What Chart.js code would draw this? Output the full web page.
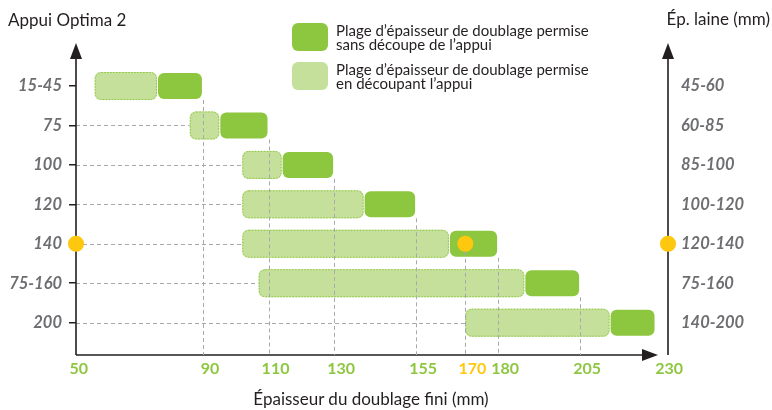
<!DOCTYPE html>
<html lang="fr">
<head>
<meta charset="utf-8">
<title>Appui Optima 2</title>
<script src="https://cdn.jsdelivr.net/npm/chart.js@4.4.1/dist/chart.umd.min.js"></script>
<style>
  body { margin: 0; background: #fff; }
  #wrap { position: relative; width: 772px; height: 410px; font-family: Lato, sans-serif; color: #231f20; }
  #wrap canvas { position: absolute; left: 0; top: 0; }
  .txt { position: absolute; white-space: nowrap; font-size: 17px; line-height: 18px; }
  .leg { position: absolute; left: 292px; display: flex; align-items: center; }
  .sw { width: 36px; height: 28px; border-radius: 6px; margin-right: 8px; box-sizing: border-box; }
  .leg span { font-size: 15px; line-height: 14px; }
</style>
</head>
<body>
<div id="wrap">
  <canvas id="chart" width="772" height="410"></canvas>
  <div class="txt" style="left:8px; top:11px;">Appui Optima 2</div>
  <div class="txt" style="right:2px; top:10px;">Ép. laine (mm)</div>
  <div class="txt" style="left:0; width:742px; text-align:center; top:390px;">Épaisseur du doublage fini (mm)</div>
  <div class="leg" style="top:23px;"><div class="sw" style="background:#8dc63f"></div><span>Plage d’épaisseur de doublage permise<br>sans découpe de l’appui</span></div>
  <div class="leg" style="top:62px;"><div class="sw" style="background:#c5e09b"></div><span>Plage d’épaisseur de doublage permise<br>en découpant l’appui</span></div>
</div>
<script>
// rows = appui size (left), wool thickness (right)
const rowLabels = ['15-45', '75', '100', '120', '140', '75-160', '200'];
const woolLabels = ['45-60', '60-85', '85-100', '100-120', '120-140', '75-160', '140-200'];

// finished lining thickness (mm)
const cutStart = [57, 86, 102, 102, 102, 107, 170];
const cutEnd = [76, 95, 114, 139, 165, 188, 214];
const fullEnd = [90, 110, 130, 155, 180, 205, 228];

const xTicks = [50, 90, 110, 130, 155, 170, 180, 205, 230];
const markRow = 4;
const markValue = 170;

const xMin = 51.3, xMax = 231.8;
const yMin = -1.09, yMax = 6.82;

const GREEN = '#8dc63f';
const LIGHT = '#c5e09b';
const YELLOW = '#fec80e';
const GREY = '#6d6e71';
const INK = '#231f20';
const DASH = '#a7a9ac';

function arrow(ctx, x, y, dir) {
  ctx.beginPath();
  if (dir === 'up') {
    ctx.moveTo(x, y); ctx.lineTo(x - 6, y + 16); ctx.lineTo(x + 6, y + 16);
  } else {
    ctx.moveTo(x, y); ctx.lineTo(x - 16, y - 6); ctx.lineTo(x - 16, y + 6);
  }
  ctx.closePath();
  ctx.fill();
}

const guides = {
  id: 'guides',
  beforeDatasetsDraw(chart) {
    const {ctx, chartArea: a, scales: {x, y}} = chart;
    ctx.save();
    // dashed lines from the left axis to each bar
    ctx.strokeStyle = DASH;
    ctx.lineWidth = 1;
    ctx.setLineDash([4, 3]);
    for (let i = 1; i < rowLabels.length; i++) {
      const py = Math.round(y.getPixelForValue(i)) + 0.5;
      ctx.beginPath();
      ctx.moveTo(a.left, py);
      ctx.lineTo(x.getPixelForValue(cutStart[i]), py);
      ctx.stroke();
    }
    // axes with arrows
    ctx.setLineDash([]);
    ctx.strokeStyle = INK;
    ctx.fillStyle = INK;
    ctx.lineWidth = 1.6;
    ctx.beginPath();
    ctx.moveTo(a.left, a.bottom); ctx.lineTo(a.left, a.top + 10);
    ctx.moveTo(a.right, a.bottom); ctx.lineTo(a.right, a.top + 10);
    ctx.moveTo(a.left, a.bottom); ctx.lineTo(a.right - 20, a.bottom);
    ctx.stroke();
    arrow(ctx, a.left, a.top, 'up');
    arrow(ctx, a.right, a.top, 'up');
    arrow(ctx, a.right - 10, a.bottom, 'right');
    ctx.restore();
  },
  afterDatasetsDraw(chart) {
    const {ctx, chartArea: a} = chart;
    ctx.save();
    // dotted outline of the light bars
    const light = chart.getDatasetMeta(0).data;
    ctx.strokeStyle = GREEN;
    ctx.lineWidth = 1;
    ctx.setLineDash([1.5, 1.5]);
    light.forEach(b => {
      const l = Math.min(b.x, b.base), w = Math.abs(b.x - b.base);
      ctx.beginPath();
      ctx.roundRect(l + 0.5, b.y - b.height / 2 + 0.5, w - 1, b.height - 1, 6);
      ctx.stroke();
    });
    // drop lines down to the x axis
    ctx.strokeStyle = DASH;
    ctx.setLineDash([4, 3]);
    const full = chart.getDatasetMeta(1).data;
    const drops = full.slice(0, -1).map(b => [b.x, b.y + b.height / 2]);
    const dot = chart.getDatasetMeta(2).data[1];
    drops.push([dot.x, dot.y + 8]);
    drops.forEach(([px, py]) => {
      px = Math.round(px) + 0.5;
      ctx.beginPath();
      ctx.moveTo(px, py);
      ctx.lineTo(px, a.bottom);
      ctx.stroke();
    });
    ctx.restore();
  }
};

new Chart(document.getElementById('chart'), {
  data: {
    datasets: [
      {
        type: 'bar',
        label: 'Plage d’épaisseur de doublage permise en découpant l’appui',
        data: rowLabels.map((_, i) => ({x: [cutStart[i], cutEnd[i]], y: i})),
        backgroundColor: LIGHT,
        borderRadius: 6,
        borderSkipped: false,
        grouped: false,
        categoryPercentage: 1,
        barPercentage: 0.71,
        order: 3
      },
      {
        type: 'bar',
        label: 'Plage d’épaisseur de doublage permise sans découpe de l’appui',
        data: rowLabels.map((_, i) => ({x: [cutEnd[i], fullEnd[i]], y: i})),
        backgroundColor: GREEN,
        borderColor: '#ffffff',
        borderWidth: 1,
        borderRadius: 7,
        borderSkipped: false,
        grouped: false,
        categoryPercentage: 1,
        barPercentage: 0.71,
        order: 2
      },
      {
        type: 'scatter',
        label: 'Exemple',
        data: [{x: xMin, y: markRow}, {x: markValue, y: markRow}, {x: xMax, y: markRow}],
        pointRadius: 8,
        pointBackgroundColor: YELLOW,
        pointBorderWidth: 0,
        clip: false,
        order: 1
      }
    ]
  },
  options: {
    indexAxis: 'y',
    responsive: false,
    animation: false,
    events: [],
    layout: {padding: {top: 43, left: 0, right: 0, bottom: 0}},
    plugins: {
      legend: {display: false},
      tooltip: {enabled: false}
    },
    scales: {
      x: {
        type: 'linear',
        min: xMin,
        max: xMax,
        offset: false,
        afterBuildTicks: s => { s.ticks = xTicks.map(v => ({value: v})); },
        afterFit: s => { s.height = 55; },
        grid: {display: false, drawTicks: false, offset: false},
        border: {display: false},
        ticks: {
          autoSkip: false,
          maxRotation: 0,
          labelOffset: 7,
          padding: 4,
          color: c => c.tick && c.tick.value === markValue ? YELLOW : GREEN,
          font: {family: 'Lato', size: 16, weight: 'bold'},
          callback: v => String(v)
        }
      },
      y: {
        type: 'linear',
        position: 'left',
        reverse: true,
        offset: false,
        min: yMin,
        max: yMax,
        afterBuildTicks: s => { s.ticks = rowLabels.map((_, i) => ({value: i})); },
        afterFit: s => { s.width = 76; },
        grid: {display: true, offset: false, drawOnChartArea: false, drawTicks: true, tickLength: 7, color: INK, lineWidth: 1.5},
        border: {display: false},
        ticks: {
          padding: 7,
          color: GREY,
          font: {family: 'Lato', size: 16.5, weight: 'bold', style: 'italic'},
          callback: v => rowLabels[v]
        }
      },
      y2: {
        type: 'linear',
        axis: 'y',
        position: 'right',
        reverse: true,
        offset: false,
        min: yMin,
        max: yMax,
        afterBuildTicks: s => { s.ticks = woolLabels.map((_, i) => ({value: i})); },
        afterFit: s => { s.width = 104; },
        grid: {display: false, offset: false, drawTicks: false},
        border: {display: false},
        ticks: {
          padding: 13,
          color: GREY,
          font: {family: 'Lato', size: 16.5, weight: 'bold', style: 'italic'},
          callback: v => woolLabels[v]
        }
      }
    }
  },
  plugins: [guides]
});
</script>
</body>
</html>
